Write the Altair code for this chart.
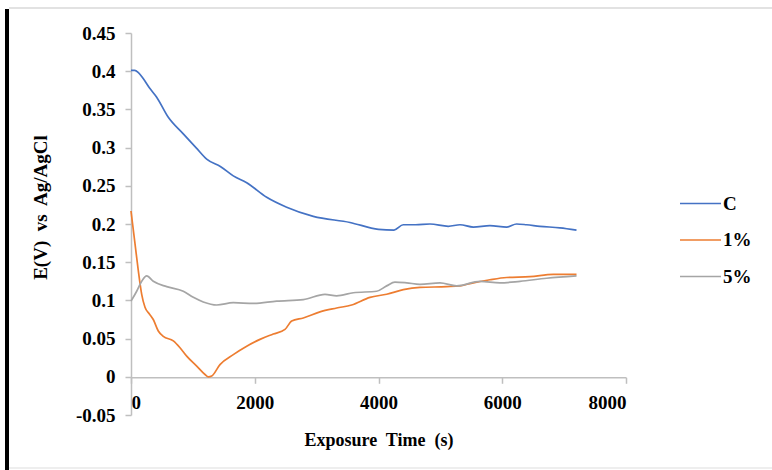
import altair as alt
import pandas as pd

# ---- data ----
series_names = ["C", "1%", "5%"]
series_colors = ["#4472C4", "#ED7D31", "#A5A5A5"]

t_c = [0, 60, 120, 200, 300, 415, 600, 845, 1050, 1223, 1450, 1653, 1870, 2193, 2516, 2946,
       3539, 4000, 4250, 4400, 4600, 4832, 5128, 5317, 5532, 5801, 6071, 6232, 6393,
       6609, 6932, 7200]
v_c = [0.401, 0.401, 0.398, 0.390, 0.378, 0.366, 0.340, 0.318, 0.300, 0.285, 0.275, 0.263, 0.254,
       0.235, 0.222, 0.210, 0.202, 0.193, 0.192, 0.199, 0.199, 0.200, 0.197, 0.199, 0.196,
       0.198, 0.196, 0.200, 0.199, 0.197, 0.195, 0.192]

t_1 = [0, 65, 118, 173, 226, 300, 360, 441, 522, 684, 792, 900, 1062, 1196, 1250, 1304,
       1438, 1653, 1870, 2085, 2300, 2489, 2597, 2785, 3054, 3324, 3566, 3862, 4132, 4401,
       4670, 5101, 5317, 5478, 5801, 6071, 6448, 6825, 7200]
v_1 = [0.217, 0.174, 0.139, 0.108, 0.091, 0.082, 0.075, 0.060, 0.053, 0.047, 0.038, 0.027,
       0.014, 0.003, 0.000, 0.001, 0.016, 0.029, 0.040, 0.049, 0.056, 0.062, 0.073, 0.077,
       0.085, 0.090, 0.094, 0.104, 0.108, 0.114, 0.117, 0.118, 0.119, 0.122, 0.127, 0.130,
       0.131, 0.134, 0.134]

t_5 = [0, 92, 173, 254, 360, 577, 845, 1007, 1168, 1385, 1653, 1976, 2354, 2785, 3135,
       3324, 3593, 3970, 4132, 4266, 4455, 4670, 4994, 5263, 5640, 5963, 6286, 6717, 7200]
v_5 = [0.099, 0.112, 0.125, 0.132, 0.125, 0.118, 0.112, 0.104, 0.098, 0.094, 0.097, 0.096,
       0.099, 0.101, 0.108, 0.106, 0.110, 0.112, 0.119, 0.124, 0.123, 0.121, 0.123, 0.119,
       0.125, 0.123, 0.125, 0.129, 0.132]

x_ticks = [0, 2000, 4000, 6000, 8000]
y_ticks = [-0.05, 0, 0.05, 0.1, 0.15, 0.2, 0.25, 0.3, 0.35, 0.4, 0.45]

rows = []
for name, ts, vs in [("C", t_c, v_c), ("1%", t_1, v_1), ("5%", t_5, v_5)]:
    for i, (t, v) in enumerate(zip(ts, vs)):
        rows.append({"series": name, "t": t, "v": v, "i": i})
df = pd.DataFrame(rows)

FONT = "Liberation Serif"
W, H = 495, 382
PAD_L, PAD_T = 131, 33

lines = alt.Chart(df).mark_line(strokeWidth=1.7, interpolate="monotone").encode(
    x=alt.X("t:Q", scale=alt.Scale(domain=[0, 8000], nice=False),
            axis=alt.Axis(values=x_ticks, format="d", title="Exposure\u00a0 Time\u00a0 (s)",
                          offset=-37.7, tickSize=6, labelPadding=10,
                          titleY=68, titleBaseline="alphabetic", titleFontSize=18)),
    y=alt.Y("v:Q", scale=alt.Scale(domain=[-0.05, 0.45], nice=False, zero=False),
            axis=alt.Axis(values=y_ticks, title="E(V)\u00a0 vs\u00a0 Ag/AgCl",
                          labelExpr="datum.value < 0 ? '-' + format(-datum.value, '~g') : format(datum.value, '~g')",
                          tickSize=6, labelPadding=10,
                          titleX=-85, titleY=174, titleBaseline="alphabetic", titleAngle=-90)),
    color=alt.Color("series:N",
                    scale=alt.Scale(domain=series_names, range=series_colors),
                    sort=series_names,
                    legend=alt.Legend(title=None, orient="none", legendX=548, legendY=149,
                                      symbolType="stroke", symbolSize=1681, symbolStrokeWidth=1.7,
                                      labelFontSize=19, labelFont=FONT, labelFontWeight="bold",
                                      labelColor="#000000", rowPadding=4.5, labelOffset=1)),
    order="i:Q",
)

one = pd.DataFrame({"k": [0]})
black_bar = alt.Chart(one).mark_rule(color="#000000", strokeWidth=4).encode(
    x=alt.value(7 - PAD_L), y=alt.value(9 - PAD_T), y2=alt.value(470 - PAD_T))
top_line = alt.Chart(one).mark_rule(color="#D9D9D9", strokeWidth=1.5).encode(
    y=alt.value(8 - PAD_T), x=alt.value(9 - PAD_L), x2=alt.value(772 - PAD_L))
bottom_line = alt.Chart(one).mark_rule(color="#E8E8E8", strokeWidth=1.5).encode(
    y=alt.value(468 - PAD_T), x=alt.value(9 - PAD_L), x2=alt.value(772 - PAD_L))

chart = alt.layer(black_bar, top_line, bottom_line, lines).properties(
    width=W, height=H,
    autosize=alt.AutoSizeParams(type="none"),
    padding={"left": PAD_L, "top": PAD_T, "right": 772 - PAD_L - W, "bottom": 470 - PAD_T - H},
    background="#FFFFFF",
).configure_view(stroke=None).configure_axis(
    grid=False, domainColor="#BFBFBF", tickColor="#BFBFBF", domainWidth=1.5, tickWidth=1.5,
    labelFont=FONT, labelFontSize=19, labelFontWeight="bold", labelColor="#000000",
    titleFont=FONT, titleFontSize=19, titleFontWeight="bold", titleColor="#000000",
)

chart.save("out.html", embed_options={"renderer": "svg", "actions": False})
